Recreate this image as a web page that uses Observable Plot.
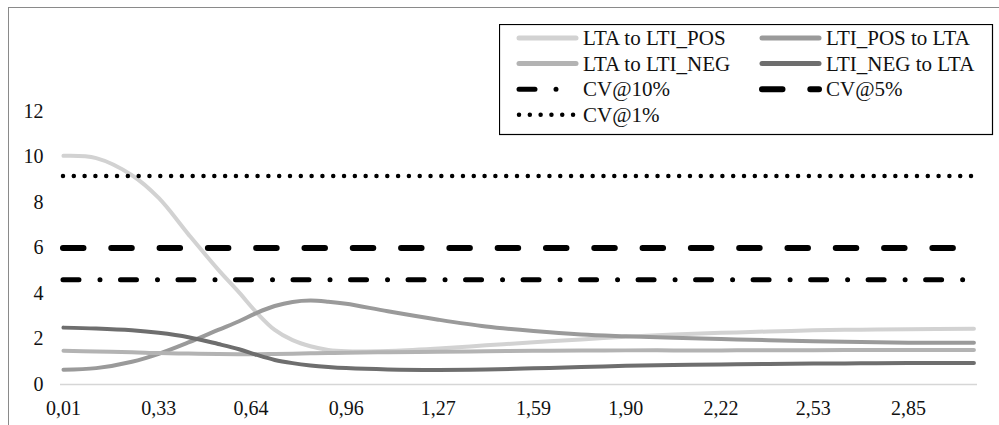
<!DOCTYPE html>
<html><head><meta charset="utf-8">
<script src="https://cdn.jsdelivr.net/npm/d3@7"></script>
<script src="https://cdn.jsdelivr.net/npm/@observablehq/plot@0.6"></script>
<style>
html,body{margin:0;padding:0;background:#fff;}
#wrap{position:relative;width:999px;height:425px;overflow:hidden;font-family:serif;}
#frame{position:absolute;left:8px;top:7px;width:1000px;height:430px;border-top:1.5px solid #8a8a8a;border-left:1.5px solid #8a8a8a;}
#chart{position:absolute;left:0;top:0;}
#legend{position:absolute;left:499px;top:24px;}
</style></head><body>
<div id="wrap"><div id="frame"></div><div id="chart"></div><div id="legend"></div></div>
<script>
// x positions (category values)
const xs = [0.01,0.12,0.24,0.33,0.43,0.53,0.60,0.66,0.72,0.78,0.84,0.90,0.96,1.10,1.27,1.43,1.59,1.75,1.90,2.06,2.22,2.38,2.53,2.69,2.85,3.07];
// series
const seriesNames = ["LTA to LTI_POS","LTI_POS to LTA","LTA to LTI_NEG","LTI_NEG to LTA"];
const ltaToPos = [10.05,9.95,9.2,8.2,6.6,5.05,4.05,3.15,2.4,1.95,1.68,1.52,1.46,1.47,1.58,1.72,1.86,1.98,2.1,2.2,2.27,2.33,2.38,2.41,2.43,2.45];
const posToLta = [0.65,0.72,1.0,1.35,1.85,2.4,2.78,3.15,3.45,3.63,3.69,3.64,3.55,3.22,2.85,2.55,2.35,2.2,2.12,2.05,2.0,1.95,1.9,1.87,1.84,1.83];
const ltaToNeg = [1.48,1.45,1.42,1.38,1.36,1.34,1.33,1.33,1.34,1.35,1.37,1.38,1.4,1.42,1.44,1.46,1.48,1.49,1.5,1.5,1.5,1.51,1.51,1.52,1.52,1.52];
const negToLta = [2.5,2.46,2.38,2.27,2.08,1.78,1.55,1.3,1.08,0.94,0.84,0.77,0.72,0.66,0.64,0.66,0.71,0.77,0.82,0.86,0.88,0.9,0.92,0.93,0.94,0.95];
const seriesColors = ["#d2d2d2","#9a9a9a","#b3b3b3","#6e6e6e"];
// critical values
const cvNames = ["CV@10%","CV@5%","CV@1%"];
const cvValues = [4.6, 6.0, 9.17];
const cvDash = ["16,21,0.01,20.5","20.5,27.8","0.01,10.8"];
const cvWidth = [5, 6, 4.5];
// ticks
const yTicks = [0,2,4,6,8,10,12];
const xTicks = [0.01,0.33,0.64,0.96,1.27,1.59,1.90,2.22,2.53,2.85];
const xTickLabels = ["0,01","0,33","0,64","0,96","1,27","1,59","1,90","2,22","2,53","2,85"];

const seriesValues = [ltaToPos, posToLta, ltaToNeg, negToLta];
const rows = seriesNames.flatMap((s, k) => xs.map((x, i) => ({series: s, x, y: seriesValues[k][i]})));

const chart = Plot.plot({
  width: 999, height: 425,
  marginLeft: 60, marginRight: 22, marginTop: 111, marginBottom: 41,
  x: {domain: [0, 3.082]},
  y: {domain: [0, 12]},
  color: {domain: seriesNames, range: seriesColors},
  style: {fontFamily: "serif", fontSize: "20px", color: "#111", background: "transparent", overflow: "visible"},
  marks: [
    Plot.ruleY([0], {stroke: "#d6d6d6", strokeWidth: 1.5}),
    Plot.axisX({ticks: xTicks, tickFormat: (d, i) => xTickLabels[i], tickSize: 0, tickPadding: 16, label: null, fontSize: 20}),
    Plot.axisY({ticks: yTicks, tickSize: 0, tickPadding: 17, label: null, fontSize: 20}),
    Plot.line(rows, {x: "x", y: "y", z: "series", stroke: "series", strokeWidth: 4, curve: "catmull-rom"}),
    ...cvValues.map((v, k) => Plot.ruleY([v], {x1: xs[0], x2: xs[xs.length - 1], stroke: "#000", strokeWidth: cvWidth[k], strokeDasharray: cvDash[k], strokeLinecap: "round"}))
  ]
});
document.getElementById("chart").appendChild(chart);

// legend
const items = [
  ...seriesNames.map((n, k) => ({name: n, stroke: seriesColors[k], dash: null, w: 5})),
  ...cvNames.map((n, k) => ({name: n, stroke: "#000", dash: cvDash[k], w: cvWidth[k]}))
];
const lg = d3.select("#legend").append("svg").attr("width", 495).attr("height", 112)
  .attr("font-family", "serif").attr("font-size", 21);
lg.append("rect").attr("x", 0.5).attr("y", 0.5).attr("width", 493).attr("height", 110).attr("fill", "#fff").attr("stroke", "#000").attr("stroke-width", 1.2);
items.forEach((it, i) => {
  const col = i % 2, row = Math.floor(i / 2);
  const sx = col === 0 ? 20 : 263;
  const cy = 14 + row * 25.6;
  lg.append("line").attr("x1", sx).attr("x2", sx + 57).attr("y1", cy).attr("y2", cy)
    .attr("stroke", it.stroke).attr("stroke-width", it.w)
    .attr("stroke-linecap", "round")
    .attr("stroke-dasharray", it.dash);
  lg.append("text").attr("x", sx + 64).attr("y", cy).attr("dy", "0.33em").attr("fill", "#111").text(it.name);
});
</script>
</body></html>
